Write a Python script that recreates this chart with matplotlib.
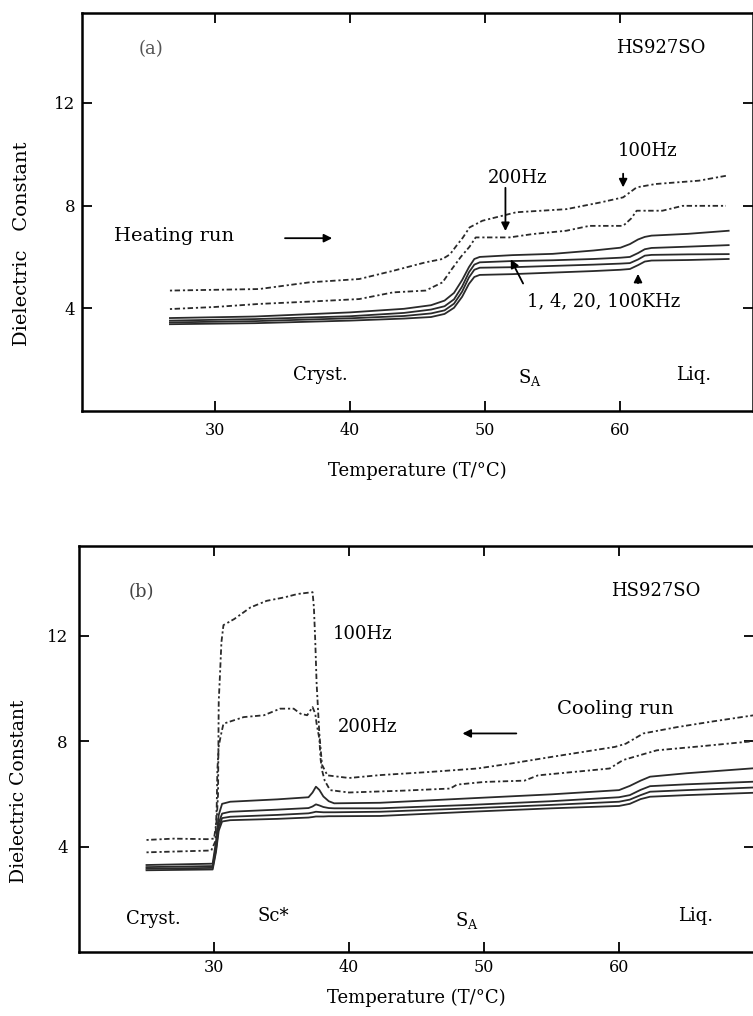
import numpy as np
import matplotlib
matplotlib.use("Agg")
import matplotlib.pyplot as plt

plt.rcParams["font.family"] = ["DejaVu Serif"]
plt.rcParams["mathtext.fontset"] = "dejavuserif"

# ---- (a) heating run ----
t_heat_100 = [26.7, 30, 33.3, 37, 40.7, 43.2, 45.6, 46.85, 47.4, 47.9, 48.35, 48.85, 49.8,
              52.3, 56, 58.5, 60.2, 61.2, 62.6, 65.8, 67.8]
e_heat_100 = [4.69, 4.72, 4.75, 5.01, 5.14, 5.46, 5.79, 5.92, 6.1, 6.45, 6.75, 7.15, 7.41,
              7.74, 7.86, 8.12, 8.32, 8.71, 8.84, 8.97, 9.16]
t_heat_200 = [26.7, 30, 33.3, 37, 40.7, 43.2, 45.6, 46.85, 47.5, 48.2, 48.85, 49.3, 51.8,
              53.5, 56, 57.7, 60.2, 60.8, 61.2, 63.1, 64.6, 67.8]
e_heat_200 = [3.97, 4.05, 4.17, 4.26, 4.36, 4.62, 4.69, 5.01, 5.5, 6.0, 6.4, 6.76, 6.76,
              6.89, 7.02, 7.21, 7.21, 7.5, 7.8, 7.8, 7.99, 7.99]
t_heat_khz = [26.7, 33, 40, 44, 46, 47, 47.7, 48.3, 48.8, 49.2, 49.6, 52, 55, 58, 60,
              60.7, 61.3, 61.8, 62.3, 65, 68]
e_heat_1k = [3.62, 3.68, 3.84, 3.98, 4.12, 4.3, 4.6, 5.1, 5.6, 5.92, 6.0, 6.07, 6.12, 6.25,
             6.36, 6.5, 6.68, 6.78, 6.83, 6.9, 7.02]
e_heat_4k = [3.52, 3.58, 3.69, 3.82, 3.95, 4.08, 4.35, 4.85, 5.4, 5.7, 5.79, 5.84, 5.87,
             5.92, 5.97, 6.0, 6.15, 6.3, 6.35, 6.4, 6.46]
e_heat_20k = [3.45, 3.5, 3.61, 3.7, 3.8, 3.92, 4.18, 4.65, 5.2, 5.5, 5.58, 5.6, 5.65, 5.7,
              5.74, 5.76, 5.9, 6.05, 6.08, 6.1, 6.11]
e_heat_100k = [3.38, 3.42, 3.52, 3.6, 3.66, 3.78, 4.02, 4.45, 4.95, 5.22, 5.3, 5.33, 5.39,
               5.45, 5.5, 5.53, 5.68, 5.82, 5.86, 5.88, 5.92]

# ---- (b) cooling run ----
t_cool_100 = [25.0, 27.0, 29.5, 30.0, 30.2, 30.3, 30.35, 30.45, 30.55, 30.7, 31.5, 32.7, 33.9,
              35.2, 36.2, 37.3, 37.4, 37.5, 37.6, 37.8, 38.0, 38.4, 40, 42.3, 46, 49.5, 52,
              55, 59.7, 60.5, 61.8, 64.3, 67, 70]
e_cool_100 = [4.25, 4.3, 4.28, 4.3, 5.0, 6.0, 9.5, 10.6, 11.75, 12.4, 12.63, 13.07, 13.32,
              13.45, 13.58, 13.65, 13.07, 11.8, 10.2, 8.3, 7.1, 6.7, 6.6, 6.71, 6.83, 6.96, 7.15,
              7.4, 7.78, 7.9, 8.29, 8.53, 8.75, 8.98]
t_cool_200 = [25.0, 29.8, 30.1, 30.2, 30.25, 30.35, 30.5, 30.7, 32.2, 33.7, 34.9, 35.9, 36.4,
              36.9, 37.3, 37.5, 37.6, 37.8, 37.9, 38.0, 38.2, 38.6, 40, 44, 47.5, 48, 50, 53,
              54, 59.3, 60.3, 62.8, 66, 70]
e_cool_200 = [3.78, 3.85, 4.2, 5.5, 6.9, 7.8, 8.2, 8.66, 8.91, 8.98, 9.23, 9.23, 9.04,
              8.98, 9.29, 9.04, 8.66, 8.1, 7.3, 6.9, 6.5, 6.14, 6.05, 6.12, 6.2, 6.35, 6.45, 6.5,
              6.7, 6.96, 7.28, 7.65, 7.8, 8.0]
t_cool_khz = [25.0, 29.9, 30.15, 30.35, 30.6, 31.2, 34.7, 37.0, 37.3, 37.55, 37.8, 38.1, 38.5,
              38.9, 42.3, 49.0, 55.0, 60.0, 60.8, 61.6, 62.3, 65.0, 70.0]
e_cool_1k = [3.3, 3.35, 4.2, 5.2, 5.62, 5.7, 5.79, 5.87, 6.05, 6.27, 6.15, 5.9, 5.72,
             5.64, 5.66, 5.83, 5.98, 6.14, 6.3, 6.5, 6.65, 6.78, 6.97]
e_cool_4k = [3.22, 3.26, 4.0, 4.9, 5.25, 5.32, 5.4, 5.46, 5.52, 5.6, 5.56, 5.5, 5.46,
             5.45, 5.45, 5.58, 5.72, 5.87, 5.95, 6.15, 6.29, 6.36, 6.46]
e_cool_20k = [3.16, 3.19, 3.9, 4.75, 5.08, 5.13, 5.2, 5.26, 5.29, 5.32, 5.31, 5.3, 5.3,
              5.3, 5.32, 5.45, 5.58, 5.7, 5.78, 5.95, 6.08, 6.14, 6.24]
e_cool_100k = [3.1, 3.13, 3.8, 4.6, 4.95, 5.0, 5.05, 5.1, 5.12, 5.14, 5.14, 5.14, 5.15,
               5.15, 5.16, 5.32, 5.45, 5.54, 5.62, 5.8, 5.89, 5.95, 6.04]

xticks = [30, 40, 50, 60]
yticks = [4, 8, 12]

ink = "#2a2a2a"
dot_style = (0, (1.2, 1.4, 3.0, 1.6))

fig = plt.figure(figsize=(7.53, 10.16), dpi=100)
ax1 = fig.add_axes([82 / 753, 1 - 411 / 1016, 671 / 753, 398 / 1016])
ax2 = fig.add_axes([79 / 753, 1 - 952 / 1016, 675 / 753, 406 / 1016])


def style_axes(ax, xlim, ylim, xpad, ypad, labelpad):
    ax.set_xlim(*xlim)
    ax.set_ylim(*ylim)
    ax.set_xticks(xticks)
    ax.set_yticks(yticks)
    ax.tick_params(direction="in", length=7, width=1.3, top=True, right=True, colors="k")
    ax.tick_params(axis="x", pad=xpad, labelsize=11.5)
    ax.tick_params(axis="y", pad=ypad, labelsize=12)
    for s in ax.spines.values():
        s.set_linewidth(1.8)
    ax.set_xlabel("Temperature (T/\u00b0C)", fontsize=13, labelpad=labelpad)


# ---------- panel (a) ----------
ax1.plot(t_heat_100, e_heat_100, ls=dot_style, lw=1.3, color=ink)
ax1.plot(t_heat_200, e_heat_200, ls=dot_style, lw=1.3, color=ink)
for e in [e_heat_1k, e_heat_4k, e_heat_20k, e_heat_100k]:
    ax1.plot(t_heat_khz, e, lw=1.3, color=ink)
style_axes(ax1, (20.2, 69.8), (0, 15.5), xpad=8, ypad=5, labelpad=16)
ax1.set_ylabel("Dielectric   Constant", fontsize=14)
ax1.yaxis.set_label_coords(-0.076, 0.42)

ax1.text(25.3, 14.1, "(a)", fontsize=13, ha="center", va="center", color="#555")
ax1.text(63.0, 14.15, "HS927SO", fontsize=13, ha="center", va="center")
ax1.text(62.0, 10.13, "100Hz", fontsize=13, ha="center", va="center")
ax1.text(52.4, 9.08, "200Hz", fontsize=13, ha="center", va="center")
ax1.text(27.0, 6.82, "Heating run", fontsize=14, ha="center", va="center")
ax1.text(58.75, 4.28, "1, 4, 20, 100KHz", fontsize=13, ha="center", va="center")
ax1.text(37.8, 1.4, "Cryst.", fontsize=13, ha="center", va="center")
ax1.text(53.3, 1.3, r"S$_{\rm A}$", fontsize=13, ha="center", va="center")
ax1.text(65.4, 1.4, "Liq.", fontsize=13, ha="center", va="center")

arrow = dict(arrowstyle="-|>", color="k", lw=1.3, mutation_scale=12)
ax1.annotate("", xy=(38.9, 6.73), xytext=(35.0, 6.73), arrowprops=arrow)
ax1.annotate("", xy=(51.5, 6.9), xytext=(51.5, 8.8), arrowprops=arrow)
ax1.annotate("", xy=(60.2, 8.6), xytext=(60.2, 9.35), arrowprops=arrow)
ax1.annotate("", xy=(51.8, 6.0), xytext=(52.9, 4.87), arrowprops=arrow)
ax1.annotate("", xy=(61.3, 5.45), xytext=(61.3, 4.87), arrowprops=arrow)

# ---------- panel (b) ----------
ax2.plot(t_cool_100, e_cool_100, ls=dot_style, lw=1.3, color=ink)
ax2.plot(t_cool_200, e_cool_200, ls=dot_style, lw=1.3, color=ink)
for e in [e_cool_1k, e_cool_4k, e_cool_20k, e_cool_100k]:
    ax2.plot(t_cool_khz, e, lw=1.3, color=ink)
style_axes(ax2, (20.0, 70.0), (0, 15.4), xpad=5, ypad=8, labelpad=9)
ax2.set_ylabel("Dielectric Constant", fontsize=13.5)
ax2.yaxis.set_label_coords(-0.0756, 0.395)

ax2.text(24.6, 13.64, "(b)", fontsize=13, ha="center", va="center", color="#444")
ax2.text(62.7, 13.7, "HS927SO", fontsize=13, ha="center", va="center")
ax2.text(41.0, 12.07, "100Hz", fontsize=13, ha="center", va="center")
ax2.text(41.4, 8.54, "200Hz", fontsize=13, ha="center", va="center")
ax2.text(59.7, 9.23, "Cooling run", fontsize=14, ha="center", va="center")
ax2.text(25.5, 1.26, "Cryst.", fontsize=13, ha="center", va="center")
ax2.text(34.4, 1.35, "Sc*", fontsize=13, ha="center", va="center")
ax2.text(48.7, 1.2, r"S$_{\rm A}$", fontsize=13, ha="center", va="center")
ax2.text(65.7, 1.35, "Liq.", fontsize=13, ha="center", va="center")
ax2.annotate("", xy=(48.2, 8.29), xytext=(52.6, 8.29), arrowprops=arrow)

fig.savefig("out.png", dpi=100)
